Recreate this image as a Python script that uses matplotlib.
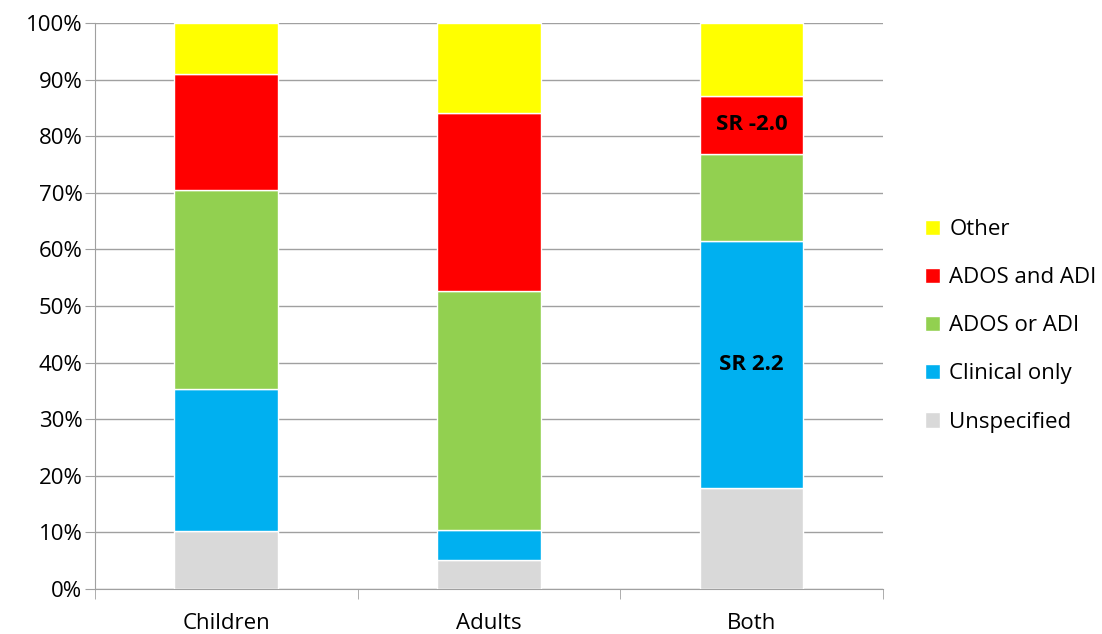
import matplotlib.pyplot as plt
from matplotlib.ticker import PercentFormatter
import numpy as np

plt.rcParams['font.family'] = ['Open Sans', 'DejaVu Sans']

groups = ['Children', 'Adults', 'Both']
series = ['Unspecified', 'Clinical only', 'ADOS or ADI', 'ADOS and ADI', 'Other']
unspecified = [10.2, 5.2, 17.9]
clinical_only = [25.1, 5.3, 43.5]
ados_or_adi = [35.2, 42.1, 15.5]
ados_and_adi = [20.5, 31.5, 10.2]
other = [9.0, 15.9, 12.9]
colors = ['#d9d9d9', '#00b0f0', '#92d050', '#ff0000', '#ffff00']
# significance labels: (group index, series index, text)
notes = [(2, 3, 'SR -2.0'), (2, 1, 'SR 2.2')]


def main():
    values = [unspecified, clinical_only, ados_or_adi, ados_and_adi, other]
    fig = plt.figure(figsize=(11.02, 6.34), dpi=100)
    ax = fig.add_axes([0.0862, 0.071, 0.7148, 0.8927])

    xs = np.arange(len(groups))
    bottom = np.zeros(len(groups))
    bars = []
    for name, vals, color in zip(series, values, colors):
        b = ax.bar(xs, vals, 0.395, bottom=bottom, color=color, label=name,
                   edgecolor='white', linewidth=1, zorder=3)
        bars.append(b)
        bottom += np.array(vals)

    for gi, si, text in notes:
        rect = bars[si][gi]
        ax.text(rect.get_x() + rect.get_width() / 2, rect.get_y() + rect.get_height() / 2,
                text, ha='center', va='center', fontsize=16, fontweight='bold', zorder=4)

    ax.set_xlim(-0.5, len(groups) - 0.5)
    ax.set_ylim(0, 100)
    ax.set_yticks(np.arange(0, 101, 10))
    ax.yaxis.set_major_formatter(PercentFormatter(decimals=0))
    ax.yaxis.grid(True, color='#a0a0a0', linewidth=1, zorder=0)

    ax.set_xticks(xs)
    ax.set_xticklabels(groups)
    ax.set_xticks(np.arange(-0.5, len(groups)), minor=True)
    ax.tick_params(axis='x', which='major', length=0, labelsize=16, pad=17)
    ax.tick_params(axis='x', which='minor', length=7, color='#a0a0a0', direction='out')
    ax.tick_params(axis='y', length=7, color='#a0a0a0', labelsize=16, pad=2)

    for side in ['top', 'right']:
        ax.spines[side].set_visible(False)
    for side in ['left', 'bottom']:
        ax.spines[side].set_color('#a0a0a0')

    handles, labels = ax.get_legend_handles_labels()
    ax.legend(handles[::-1], labels[::-1], loc='center left', bbox_to_anchor=(1.028, 0.465),
              frameon=False, fontsize=16, handlelength=0.7, handleheight=0.7,
              labelspacing=1.22, handletextpad=0.4)

    fig.savefig('out.png')


if __name__ == '__main__':
    main()
